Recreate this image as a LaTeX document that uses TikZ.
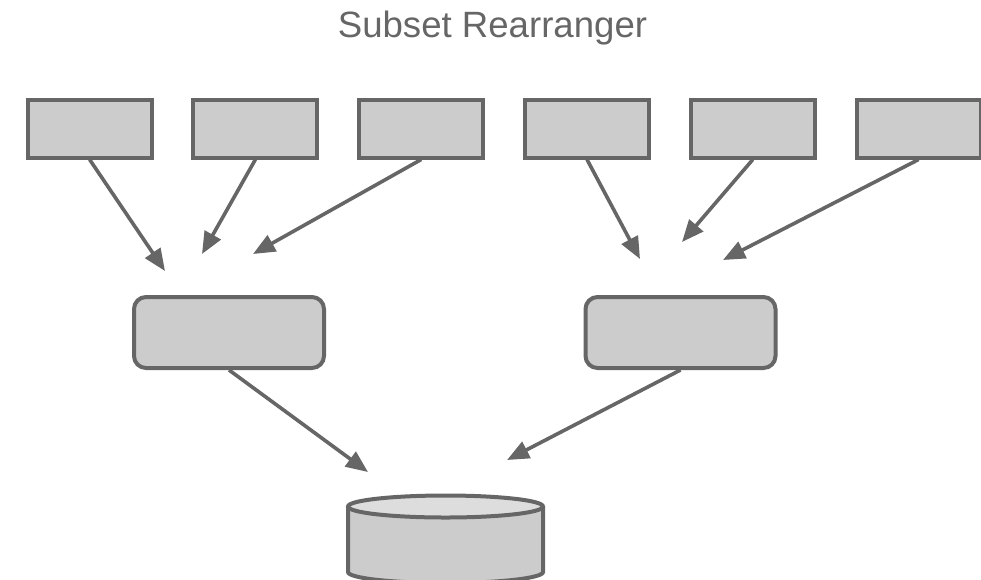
\documentclass[tikz,border=0pt]{standalone}
\usepackage{fontspec}
\setmainfont{Liberation Sans}
\usetikzlibrary{arrows.meta}
\definecolor{linegray}{HTML}{666666}
\definecolor{boxgray}{HTML}{CCCCCC}
\definecolor{topgray}{HTML}{DDDDDD}
\tikzstyle{arrow} = [line width=3.6pt,draw=linegray,fill=linegray,->,>={Triangle[length=22pt,width=18pt]}]
\tikzstyle{srcbox} = [draw=linegray,fill=boxgray,line width=4pt,minimum width=124pt,minimum height=58pt,inner sep=0pt]
\tikzstyle{mergebox} = [srcbox,rounded corners=12pt,minimum width=190pt,minimum height=71pt]
\tikzstyle{title} = [text=linegray,font=\fontsize{36.6}{40}\selectfont,anchor=base,inner sep=0pt]

\begin{document}
\begin{tikzpicture}[x=1pt,y=-1pt]
            \useasboundingbox (0,0) rectangle (981,579);
            \node[title] (title) at (492.5,37) {Subset Rearranger};
            \foreach \i in {1,...,6}
                \node[srcbox] (src\i) at ({89.6+165.8*(\i-1)},128.5) {};
            \node[mergebox] (mleft) at (229,332.5) {};
            \node[mergebox] (mright) at (680.5,332.5) {};
            % store
            \filldraw[line width=4pt,draw=linegray,fill=boxgray] (348,506.5) -- (348,572)
                arc[start angle=180,end angle=360,x radius=97.5pt,y radius=11pt] -- (543,506.5);
            \filldraw[line width=4pt,draw=linegray,fill=topgray] (445.5,506.5) ellipse[x radius=97.5pt,y radius=11pt];
            % free arrow ends
            \coordinate (t1) at (165,271);
            \coordinate (t2) at (202,254);
            \coordinate (t3) at (253,254);
            \coordinate (t4) at (640,259);
            \coordinate (t5) at (682,242);
            \coordinate (t6) at (723,260);
            \coordinate (tl) at (368,472);
            \coordinate (tr) at (507,460);
            \draw[arrow] (src1.south) -- (t1);
            \draw[arrow] (src2.south) -- (t2);
            \draw[arrow] (src3.south) -- (t3);
            \draw[arrow] (src4.south) -- (t4);
            \draw[arrow] (src5.south) -- (t5);
            \draw[arrow] (src6.south) -- (t6);
            \draw[arrow] (mleft.south) -- (tl);
            \draw[arrow] (mright.south) -- (tr);
        \end{tikzpicture}
\end{document}
